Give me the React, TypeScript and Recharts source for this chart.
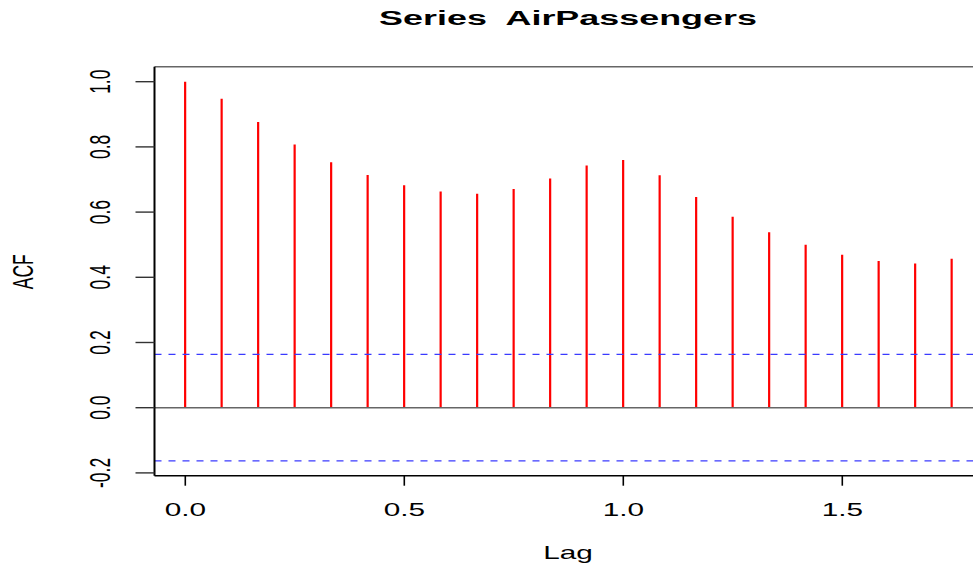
import React from "react";
import {
  ComposedChart,
  Bar,
  XAxis,
  YAxis,
  ReferenceLine,
} from "recharts";

// ACF values of AirPassengers, lags 0..21 (in years, lag k = k/12)
const lags: number[] = [
  0, 1 / 12, 2 / 12, 3 / 12, 4 / 12, 5 / 12, 6 / 12, 7 / 12, 8 / 12, 9 / 12,
  10 / 12, 11 / 12, 12 / 12, 13 / 12, 14 / 12, 15 / 12, 16 / 12, 17 / 12,
  18 / 12, 19 / 12, 20 / 12, 21 / 12,
];
const acfValues: number[] = [
  1.0, 0.948, 0.876, 0.807, 0.753, 0.714, 0.682, 0.663, 0.656, 0.671, 0.703,
  0.743, 0.76, 0.713, 0.646, 0.586, 0.538, 0.5, 0.469, 0.45, 0.442, 0.457,
];
const xTicks: number[] = [0, 0.5, 1.0, 1.5];
const yTicks: number[] = [-0.2, 0, 0.2, 0.4, 0.6, 0.8, 1.0];
const confLimit = 1.96 / Math.sqrt(144);

const data = lags.map((lag, i) => ({ lag, acf: acfValues[i] }));

const W = 973;
const H = 565;
const FONT = "'Liberation Sans', Arial, Helvetica, sans-serif";
const STRETCH = 1.7;
const FS = 17.5;

const XTick = (props: any) => {
  const { x, y, payload } = props;
  return (
    <text
      transform={`translate(${x},${y + 30.5}) scale(${STRETCH},1)`}
      textAnchor="middle"
      fontFamily={FONT}
      fontSize={FS}
      fill="#000"
    >
      {Number(payload.value).toFixed(1)}
    </text>
  );
};

const YTick = (props: any) => {
  const { x, y, payload } = props;
  return (
    <text
      transform={`translate(${x - 35.5},${y}) scale(${STRETCH},1) rotate(-90)`}
      textAnchor="middle"
      dominantBaseline="central"
      fontFamily={FONT}
      fontSize={FS}
      fill="#000"
    >
      {Number(payload.value).toFixed(1)}
    </text>
  );
};

export default function App() {
  return (
    <div
      style={{
        position: "absolute",
        left: 0,
        top: 0,
        width: W,
        height: H,
        background: "#fff",
        overflow: "hidden",
      }}
    >
      <ComposedChart
        width={W}
        height={H}
        data={data}
        margin={{ top: 66.7, right: 0, bottom: 0, left: 0 }}
      >
        <XAxis
          type="number"
          dataKey="lag"
          domain={[-0.0703, 1.7984]}
          ticks={xTicks}
          allowDataOverflow
          height={89.3}
          tickSize={10}
          tickMargin={0}
          tick={<XTick />}
          axisLine={{ stroke: "#000", strokeWidth: 1.6 }}
          tickLine={{ stroke: "#000", strokeWidth: 1.6 }}
          interval={0}
        />
        <YAxis
          type="number"
          domain={[-0.2086, 1.046]}
          ticks={yTicks}
          allowDataOverflow
          width={154.5}
          tickSize={19}
          tickMargin={0}
          tick={<YTick />}
          axisLine={{ stroke: "#000", strokeWidth: 2 }}
          tickLine={{ stroke: "#333", strokeWidth: 1.4 }}
          interval={0}
        />
        <ReferenceLine y={1.046} stroke="#666" strokeWidth={1.6} ifOverflow="visible" />
        <ReferenceLine y={0} stroke="#666" strokeWidth={1.6} />
        <Bar dataKey="acf" fill="#ff0000" barSize={2.2} isAnimationActive={false} />
        <ReferenceLine
          y={confLimit}
          stroke="#3a3aff"
          strokeWidth={1.2}
          strokeDasharray="7 7"
        />
        <ReferenceLine
          y={-confLimit}
          stroke="#3a3aff"
          strokeWidth={1.2}
          strokeDasharray="7 7"
        />
      </ComposedChart>
      <svg
        width={W}
        height={H}
        style={{ position: "absolute", left: 0, top: 0, pointerEvents: "none" }}
      >
        <text
          transform={`translate(568,25) scale(1.71,1)`}
          textAnchor="middle"
          fontFamily={FONT}
          fontWeight="bold"
          fontSize={21}
          fill="#000"
          xmlSpace="preserve"
          style={{ whiteSpace: "pre" }}
        >
          {"Series  AirPassengers"}
        </text>
        <text
          transform={`translate(568,559) scale(${STRETCH},1)`}
          textAnchor="middle"
          fontFamily={FONT}
          fontSize={FS}
          fill="#000"
        >
          Lag
        </text>
        <text
          transform={`translate(23,271.7) scale(${STRETCH},1) rotate(-90)`}
          textAnchor="middle"
          dominantBaseline="central"
          fontFamily={FONT}
          fontSize={FS}
          fill="#000"
        >
          ACF
        </text>
      </svg>
    </div>
  );
}
